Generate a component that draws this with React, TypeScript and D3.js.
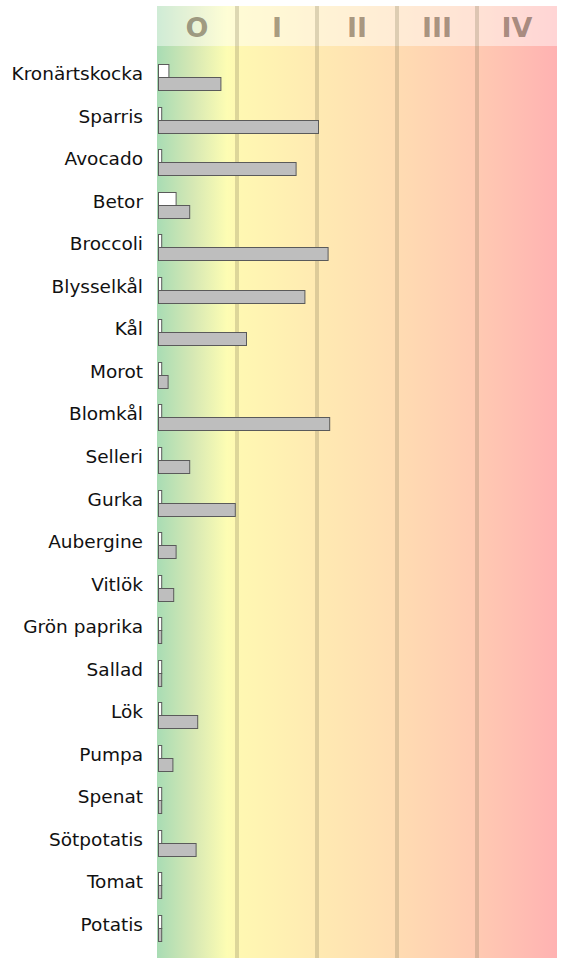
import { useEffect, useRef } from 'react'
import * as d3 from 'd3'

const vegetables = [
  'Kronärtskocka', 'Sparris', 'Avocado', 'Betor', 'Broccoli', 'Blysselkål', 'Kål',
  'Morot', 'Blomkål', 'Selleri', 'Gurka', 'Aubergine', 'Vitlök', 'Grön paprika',
  'Sallad', 'Lök', 'Pumpa', 'Spenat', 'Sötpotatis', 'Tomat', 'Potatis'
]
// small (white) bar, in zone units
const whiteValues = [
  0.13, 0.04, 0.04, 0.22, 0.04, 0.04, 0.04,
  0.04, 0.04, 0.04, 0.04, 0.04, 0.04, 0.04,
  0.04, 0.04, 0.04, 0.04, 0.04, 0.04, 0.04
]
// large (gray) bar, in zone units
const grayValues = [
  0.78, 2.0, 1.72, 0.39, 2.12, 1.83, 1.1,
  0.12, 2.14, 0.39, 0.96, 0.22, 0.19, 0.04,
  0.04, 0.49, 0.18, 0.04, 0.47, 0.04, 0.04
]
const zoneLabels = ['O', 'I', 'II', 'III', 'IV']

export default function App() {
  const svgRef = useRef<SVGSVGElement>(null)

  useEffect(() => {
    if (!svgRef.current) return
    const svg = d3.select(svgRef.current)
    svg.selectAll('*').remove()

    const W = 565, H = 958
    const top = 6, headerH = 40
    svg.attr('width', W).attr('height', H)

    const x = d3.scaleLinear().domain([0, zoneLabels.length]).range([157, 557])
    const step = 42.55
    const y = d3.scaleBand().domain(vegetables)
      .range([77 - step / 2, 77 - step / 2 + step * vegetables.length]).padding(0)

    // background gradient
    const grad = svg.append('defs').append('linearGradient')
      .attr('id', 'bg').attr('gradientUnits', 'userSpaceOnUse')
      .attr('x1', x(0)).attr('x2', x(5)).attr('y1', 0).attr('y2', 0)
    const stops: [number, string][] = [
      [0, '#a8dcb4'], [0.09, '#d6e8b4'], [0.175, '#fdfdb3'], [0.2, '#fff8b2'],
      [0.4, '#ffeab2'], [0.6, '#ffdcb2'], [0.8, '#ffcab2'], [1, '#ffb2b2']
    ]
    stops.forEach(([o, c]) => grad.append('stop').attr('offset', o).attr('stop-color', c))

    svg.append('rect')
      .attr('x', x(0)).attr('y', top)
      .attr('width', x(5) - x(0)).attr('height', H - top)
      .attr('fill', 'url(#bg)')

    // lighter header band
    svg.append('rect')
      .attr('x', x(0)).attr('y', top)
      .attr('width', x(5) - x(0)).attr('height', headerH)
      .attr('fill', '#fff').attr('opacity', 0.45)

    // zone separators
    d3.range(1, zoneLabels.length).forEach(i => {
      svg.append('line')
        .attr('x1', x(i)).attr('x2', x(i)).attr('y1', top).attr('y2', H)
        .attr('stroke', 'rgba(120,110,80,0.25)').attr('stroke-width', 4)
    })

    // zone numerals
    zoneLabels.forEach((lab, i) => {
      svg.append('text')
        .attr('x', x(i + 0.5)).attr('y', 37)
        .attr('text-anchor', 'middle')
        .attr('font-family', 'DejaVu Sans').attr('font-weight', 'bold').attr('font-size', 27)
        .attr('fill', 'rgba(60,40,20,0.45)')
        .text(lab)
    })

    const barH = 13
    const x0 = x(0) + 1.5
    vegetables.forEach((name, i) => {
      const cy = Math.round((y(name) ?? 0) + y.bandwidth() / 2)

      // label
      svg.append('text')
        .attr('x', 143).attr('y', cy + 2.5)
        .attr('text-anchor', 'end')
        .attr('font-family', 'DejaVu Sans').attr('font-size', 18.5)
        .attr('fill', '#111')
        .text(name)

      // white bar
      svg.append('rect')
        .attr('x', x0).attr('y', cy - barH + 0.5)
        .attr('width', x(whiteValues[i]) - x(0)).attr('height', barH)
        .attr('fill', '#fff').attr('stroke', '#5a5a5a').attr('stroke-width', 1)

      // gray bar
      svg.append('rect')
        .attr('x', x0).attr('y', cy + 0.5)
        .attr('width', x(grayValues[i]) - x(0)).attr('height', barH)
        .attr('fill', '#bebebe').attr('stroke', '#5a5a5a').attr('stroke-width', 1)
    })
  }, [])

  return (
    <div style={{ position: 'absolute', left: 0, top: 0 }}>
      <svg ref={svgRef} style={{ display: 'block' }} />
    </div>
  )
}
